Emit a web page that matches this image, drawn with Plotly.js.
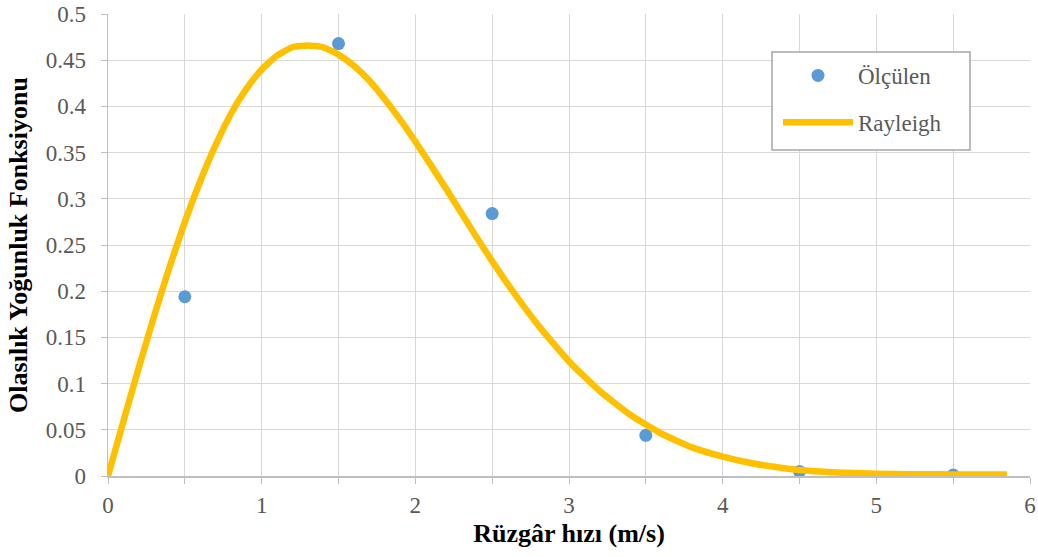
<!DOCTYPE html>
<html>
<head>
<meta charset="utf-8">
<script src="https://cdn.plot.ly/plotly-3.0.1.min.js"></script>
<style>html,body{margin:0;padding:0;background:#fff;}#chart{width:1038px;height:557px;}</style>
</head>
<body>
<div id="chart"></div>
<script>
// Measured data (Ölçülen)
const measuredX = [0.5, 1.5, 2.5, 3.5, 4.5, 5.5];
const measuredY = [0.194, 0.468, 0.284, 0.044, 0.005, 0.001];

// Rayleigh curve, values
const rayleighX = [0, 0.1, 0.2, 0.3, 0.4, 0.5, 0.6, 0.7, 0.8, 0.9, 1.0, 1.1, 1.2, 1.3, 1.4, 1.5, 1.6, 1.7, 1.8, 1.9, 2.0, 2.2, 2.4, 2.6, 2.8, 3.0, 3.2, 3.4, 3.6, 3.8, 4.0, 4.2, 4.4, 4.6, 4.8, 5.0, 5.2, 5.4, 5.6, 5.85];
const rayleighY = [0, 0.059, 0.117, 0.173, 0.226, 0.275, 0.319, 0.358, 0.392, 0.419, 0.440, 0.455, 0.464, 0.466, 0.464, 0.456, 0.444, 0.428, 0.408, 0.386, 0.362, 0.311, 0.258, 0.208, 0.163, 0.124, 0.092, 0.066, 0.046, 0.031, 0.021, 0.0135, 0.0085, 0.0052, 0.0035, 0.0025, 0.002, 0.0018, 0.0017, 0.0016];

const xTickVals = [0, 0.5, 1, 1.5, 2, 2.5, 3, 3.5, 4, 4.5, 5, 5.5, 6];
const xTickText = ['0', '', '1', '', '2', '', '3', '', '4', '', '5', '', '6'];
const yTickVals = [0, 0.05, 0.1, 0.15, 0.2, 0.25, 0.3, 0.35, 0.4, 0.45, 0.5];
const yTickText = ['0', '0.05', '0.1', '0.15', '0.2', '0.25', '0.3', '0.35', '0.4', '0.45', '0.5'];

const serif = 'Liberation Serif';

const traces = [
  {
    x: measuredX, y: measuredY, type: 'scatter', mode: 'markers', name: 'Ölçülen',
    legendgroup: 'a',
    marker: {color: '#5B9BD5', size: 13}
  },
  {
    x: rayleighX, y: rayleighY, type: 'scatter', mode: 'lines', name: 'Rayleigh',
    legendgroup: 'b',
    line: {color: '#FFC000', width: 6.5, shape: 'spline', smoothing: 0.5}
  }
];

const mL = 108, mR = 8, mT = 14, mB = 81;
const plotW = 1038 - mL - mR, plotH = 557 - mT - mB;
const px2x = p => (p - mL) / plotW;
const px2y = p => 1 - (p - mT) / plotH;

const layout = {
  width: 1038, height: 557,
  margin: {l: mL, r: mR, t: mT, b: mB},
  paper_bgcolor: '#fff', plot_bgcolor: '#fff',
  font: {family: serif},
  showlegend: true,
  legend: {
    x: px2x(778), y: px2y(54),
    xanchor: 'left', yanchor: 'top',
    bgcolor: 'rgba(0,0,0,0)', borderwidth: 0,
    font: {family: serif, size: 23, color: '#595959'},
    tracegroupgap: 14, traceorder: 'grouped', itemwidth: 70
  },
  shapes: [{
    type: 'rect', xref: 'paper', yref: 'paper', layer: 'above',
    x0: px2x(772), x1: px2x(970), y0: px2y(150), y1: px2y(52),
    fillcolor: '#fff', line: {color: '#A6A6A6', width: 1.5}
  }],
  xaxis: {
    range: [0, 6], tickvals: xTickVals, ticktext: xTickText,
    showgrid: true, gridcolor: '#D9D9D9', gridwidth: 1,
    zeroline: false, showline: true, linecolor: '#BFBFBF', linewidth: 1.5,
    ticks: 'outside', ticklen: 6, tickcolor: '#BFBFBF',
    ticklabelstandoff: 2,
    tickfont: {family: serif, size: 23, color: '#595959'},
    title: {text: '<b>Rüzgâr hızı (m/s)</b>', font: {family: serif, size: 26, color: '#000'}, standoff: 6}
  },
  yaxis: {
    range: [0, 0.5], tickvals: yTickVals, ticktext: yTickText,
    showgrid: true, gridcolor: '#D9D9D9', gridwidth: 1,
    zeroline: false, showline: true, linecolor: '#BFBFBF', linewidth: 1.5,
    ticks: 'outside', ticklen: 6, tickcolor: '#BFBFBF',
    ticklabelstandoff: 10,
    tickfont: {family: serif, size: 23, color: '#595959'},
    title: {text: '<b>Olasılık Yoğunluk Fonksiyonu</b>', font: {family: serif, size: 26, color: '#000'}, standoff: 10}
  }
};

Plotly.newPlot('chart', traces, layout, {displayModeBar: false, staticPlot: true});
</script>
</body>
</html>
